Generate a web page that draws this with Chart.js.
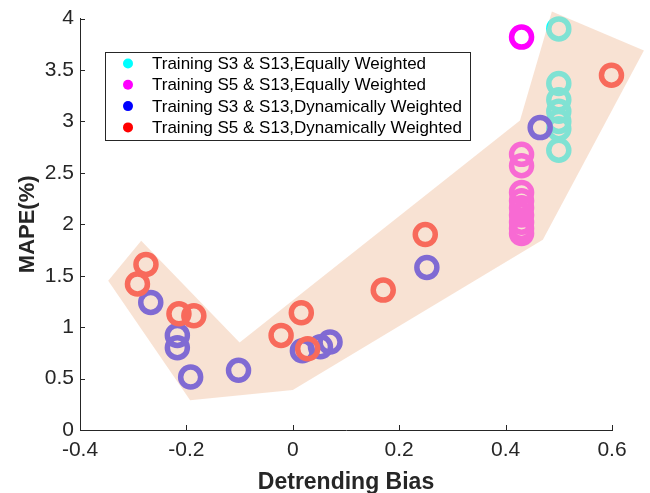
<!DOCTYPE html>
<html lang="en">
<head>
<meta charset="UTF-8">
<title>MAPE vs Detrending Bias</title>
<script src="https://cdn.jsdelivr.net/npm/chart.js"></script>
<style>
  html, body { margin: 0; padding: 0; background: #fff; }
</style>
</head>
<body>
<canvas id="chart" width="650" height="493"></canvas>
<script>
// series names and colours (legend order)
const seriesLabels = ['Training S3 & S13,Equally Weighted',
                      'Training S5 & S13,Equally Weighted',
                      'Training S3 & S13,Dynamically Weighted',
                      'Training S5 & S13,Dynamically Weighted'];
const seriesColors = ['#00ffff', '#ff00ff', '#0000ff', '#ff0000'];

// Training S3 & S13, equally weighted
const s3EqX = [0.5, 0.5, 0.5, 0.5, 0.5, 0.5, 0.5];
const s3EqY = [3.9, 3.37, 3.21, 3.1, 3.0, 2.93, 2.72];

// Training S5 & S13, equally weighted
const s5EqX = [0.43, 0.43, 0.43, 0.43, 0.43, 0.43, 0.43, 0.43, 0.43, 0.43];
const s5EqY = [3.82, 2.68, 2.57, 2.31, 2.23, 2.16, 2.09, 2.02, 1.96, 1.91];

// Training S3 & S13, dynamically weighted
const s3DynX = [-0.267, -0.217, -0.217, -0.192, -0.102, 0.018, 0.052, 0.07, 0.252, 0.465];
const s3DynY = [1.24, 0.92, 0.8, 0.515, 0.58, 0.77, 0.81, 0.855, 1.58, 2.94];

// Training S5 & S13, dynamically weighted
const s5DynX = [-0.292, -0.276, -0.214, -0.186, -0.022, 0.016, 0.028, 0.17, 0.249, 0.599];
const s5DynY = [1.42, 1.61, 1.13, 1.11, 0.92, 1.14, 0.79, 1.36, 1.9, 3.45];

// shaded band outline
const bandX = [-0.347, -0.285, -0.1, 0.427, 0.487, 0.66, 0.47, 0, -0.193];
const bandY = [1.45, 1.84, 0.85, 3.01, 4.07, 3.69, 1.85, 0.39, 0.29];
const bandColor = 'rgba(242, 200, 171, 0.53)';

// tick positions
const xTicks = [-0.4, -0.2, 0, 0.2, 0.4, 0.6];
const yTicks = [0, 0.5, 1, 1.5, 2, 2.5, 3, 3.5, 4];

const axisColor = '#262626';
const fontFamily = '"Liberation Sans", Arial, sans-serif';
const zip = (xs, ys) => xs.map((x, i) => ({x: x, y: ys[i]}));

function ringSet(label, xs, ys, color, order) {
    return {label: label,
            data: zip(xs, ys),
            order: order,
            clip: false,
            pointStyle: 'circle',
            pointRadius: 10,
            pointBorderWidth: 5.5,
            pointBorderColor: color,
            pointBackgroundColor: 'rgba(0,0,0,0)',
            showLine: false};
}

// fills the band over the markers using the points of the band dataset
const bandPlugin = {
    id: 'band',
    afterDatasetsDraw(chart) {
        const pts = chart.getDatasetMeta(4).data;
        const ctx = chart.ctx;
        ctx.save();
        ctx.beginPath();
        pts.forEach((p, i) => i ? ctx.lineTo(p.x, p.y) : ctx.moveTo(p.x, p.y));
        ctx.closePath();
        ctx.fillStyle = bandColor;
        ctx.fill();
        ctx.restore();
    }
};

// inward tick marks
const tickPlugin = {
    id: 'inTicks',
    afterDraw(chart) {
        const {ctx, chartArea} = chart;
        const xs = chart.scales.x, ys = chart.scales.y;
        ctx.save();
        ctx.strokeStyle = axisColor;
        ctx.lineWidth = 1;
        ctx.beginPath();
        xTicks.forEach(v => {
            const px = Math.round(xs.getPixelForValue(v)) + 0.5;
            ctx.moveTo(px, chartArea.bottom);
            ctx.lineTo(px, chartArea.bottom - 5);
        });
        yTicks.forEach(v => {
            const py = Math.round(ys.getPixelForValue(v)) + 0.5;
            ctx.moveTo(chartArea.left, py);
            ctx.lineTo(chartArea.left + 5, py);
        });
        ctx.stroke();
        ctx.restore();
    }
};

// legend box inside the axes
const legendPlugin = {
    id: 'boxLegend',
    afterDraw(chart) {
        const ctx = chart.ctx;
        const bx = 105.5, by = 52.5, bw = 365, bh = 88;
        ctx.save();
        ctx.fillStyle = '#ffffff';
        ctx.fillRect(bx, by, bw, bh);
        ctx.strokeStyle = axisColor;
        ctx.lineWidth = 1;
        ctx.strokeRect(bx, by, bw, bh);
        ctx.font = '17px ' + fontFamily;
        ctx.textBaseline = 'middle';
        ctx.textAlign = 'left';
        seriesLabels.forEach((lab, i) => {
            const cy = 63.5 + i * 21.3;
            ctx.fillStyle = seriesColors[i];
            ctx.beginPath();
            ctx.arc(128, cy, 5, 0, Math.PI * 2);
            ctx.fill();
            ctx.fillStyle = '#000000';
            ctx.fillText(lab, 152, cy + 1);
        });
        ctx.restore();
    }
};

const ctx = document.getElementById('chart').getContext('2d');

new Chart(ctx, {
    type: 'scatter',
    data: {
        datasets: [
            ringSet(seriesLabels[0], s3EqX, s3EqY, seriesColors[0], 4),
            ringSet(seriesLabels[1], s5EqX, s5EqY, seriesColors[1], 3),
            ringSet(seriesLabels[2], s3DynX, s3DynY, seriesColors[2], 2),
            ringSet(seriesLabels[3], s5DynX, s5DynY, seriesColors[3], 1),
            {label: 'band', data: zip(bandX, bandY), order: 0, clip: false,
             pointRadius: 0, showLine: false}
        ]
    },
    options: {
        responsive: false,
        animation: false,
        events: [],
        layout: {padding: {top: 16, right: 38, left: 0, bottom: 0}},
        plugins: {legend: {display: false}, tooltip: {enabled: false}},
        scales: {
            x: {
                type: 'linear', position: 'bottom', min: -0.4, max: 0.6,
                grid: {display: false, drawTicks: false},
                border: {color: axisColor, width: 1},
                afterBuildTicks: s => { s.ticks = xTicks.map(v => ({value: v})); },
                afterFit: s => { s.height = 63; },
                ticks: {color: axisColor, padding: 8,
                        font: {family: fontFamily, size: 21},
                        callback: v => String(v)},
                title: {display: true, text: 'Detrending Bias', color: axisColor,
                        font: {family: fontFamily, size: 23, weight: 'bold'},
                        padding: {top: 0, bottom: -3}}
            },
            y: {
                type: 'linear', min: 0, max: 4,
                grid: {display: false, drawTicks: false},
                border: {color: axisColor, width: 1},
                afterBuildTicks: s => { s.ticks = yTicks.map(v => ({value: v})); },
                afterFit: s => { s.width = 80; },
                ticks: {color: axisColor, padding: 6,
                        font: {family: fontFamily, size: 21},
                        callback: v => String(v)},
                title: {display: true, text: 'MAPE(%)', color: axisColor,
                        font: {family: fontFamily, size: 22, weight: 'bold'},
                        padding: {top: 15, bottom: 0}}
            }
        }
    },
    plugins: [bandPlugin, tickPlugin, legendPlugin]
});
</script>
</body>
</html>
